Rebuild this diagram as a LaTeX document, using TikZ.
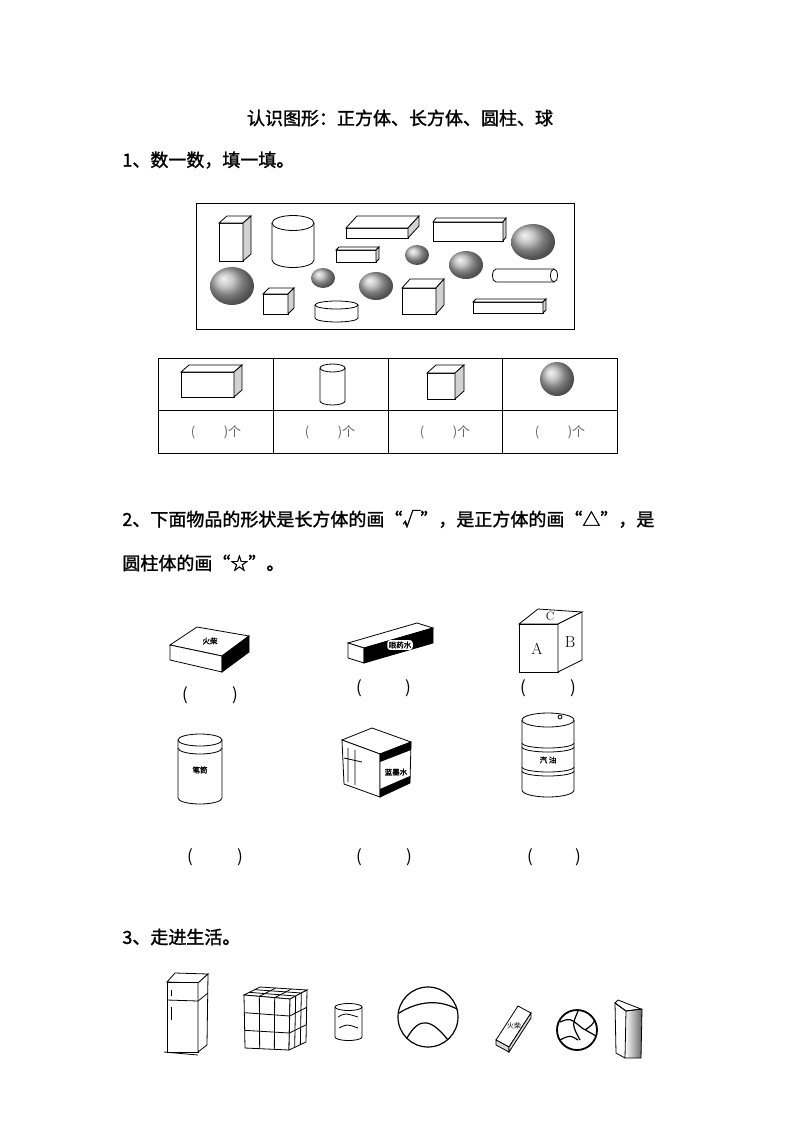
\documentclass[tikz,border=0pt]{standalone}
\usetikzlibrary{calc}
\usepackage{fontspec}
\newfontfamily\cjk{Noto Sans CJK SC}
\newfontfamily\cjkb{Noto Sans CJK SC}[FakeBold=1.5]
\newcommand\cub[6]{%
 \draw[fill=white] (#1,#2) rectangle ++(#3,#4);
 \draw[fill=white] (#1,#2) -- ++(#5,-#6) -- ++(#3,0) -- ++(-#5,#6) -- cycle;
 \draw[fill=gray!35] (#1+#3,#2) -- ++(#5,-#6) -- ++(0,#4) -- ++(-#5,#6) -- cycle;}
\newcommand\cyl[5]{% cx top rx ry h
 \draw[fill=white] (#1-#3,#2) -- ++(0,#5) arc(180:0:#3 and #4) -- (#1+#3,#2);
 \draw (#1,#2) ellipse (#3 and #4);}
\newcommand\sph[4]{\shade[ball color=gray!60] (#1,#2) ellipse (#3 and #4);}
\begin{document}
\begin{tikzpicture}[x=1pt,y=-1pt,line width=0.8pt,
 txt/.style={font=\cjkb\fontsize{18}{20}\selectfont,anchor=west,inner sep=0},
 cnt/.style={font=\cjk\fontsize{13}{14}\selectfont,text=gray!80!black},
 par/.style={font=\cjk\fontsize{17}{18}\selectfont},
 lab/.style={font=\cjkb\fontsize{7.5}{8}\selectfont,inner sep=0.5pt}]
\useasboundingbox (0,0) rectangle (800,1132);
\fill[white] (0,0) rectangle (800,1132);
\node[font=\cjkb\fontsize{18}{20}\selectfont] (title) at (400,118) {认识图形：正方体、长方体、圆柱、球};
\node[txt] (q1) at (122,160) {1、数一数，填一填。};
% box of shapes
\draw (196,203) rectangle (574,329);
\cub{219}{223}{24}{38}{8}{7}
\cyl{293}{223}{21}{7.5}{37}
\cub{346}{228}{62}{10}{11}{12}
\cub{433}{222}{70}{19}{3}{4}
\sph{533}{242}{22}{18}
\cub{336}{250}{40}{12}{3}{3}
\sph{417}{255}{12}{10}
\sph{466}{265}{17}{14}
\draw[fill=white] (554,269) -- (496,269) arc(-90:-270:3.5 and 6.5) -- (554,282);
\draw[fill=white] (554,275.5) ellipse (3.5 and 6.5);
\sph{232}{286}{22}{19}
\sph{323}{278}{12}{10}
\sph{376}{286}{17}{14}
\cub{263}{294}{25}{20}{6}{6}
\cyl{336.5}{305}{21.5}{4}{13}
\cub{402}{288}{34}{26}{8}{9}
\cub{473}{302}{70}{11}{3}{3}
% table
\draw[line width=0.6pt] (158,358) rectangle (617,453);
\draw[line width=0.6pt] (158,410) -- (617,410);
\foreach \x in {273,388,502} \draw[line width=0.6pt] (\x,358) -- (\x,453);
\cub{181}{372}{53}{25}{8}{7}
\cyl{332.5}{368}{12.5}{4}{33}
\cub{427}{373}{28}{26}{9}{8}
\sph{557}{379}{17}{17}
\foreach \x/\n in {216/c1,330/c2,445/c3,560/c4} \node[cnt] (\n) at (\x,432) {(\hspace{2.2em})个};
% question 2
\node[txt] (q2a) at (122,519) {2、下面物品的形状是长方体的画“√”，是正方体的画“△”，是};
\node[txt] (q2b) at (122,563) {圆柱体的画“☆”。};
% matchbox
\draw[fill=white] (170,645) -- (197,627) -- (249,636) -- (222,656) -- cycle;
\draw[fill=white] (170,645) -- (222,656) -- (222,672) -- (170,660) -- cycle;
\draw[fill=black] (222,656) -- (249,636) -- (249,652) -- (222,672) -- cycle;
\node[lab] (mlab) at (210,641) {火柴};
% eye drops
\draw[fill=white] (348,643) -- (417,623) -- (433,628) -- (364,648) -- cycle;
\draw[fill=white] (348,643) -- (364,648) -- (364,663) -- (348,658) -- cycle;
\draw[fill=black] (364,648) -- (433,628) -- (433,643) -- (364,663) -- cycle;
\node[lab,fill=white,rounded corners=3pt,inner sep=1.5pt] (elab) at (400,645) {眼药水};
% ABC cube
\draw[fill=white] (519,624) -- (538,609) -- (582,612) -- (558,624) -- cycle;
\draw[fill=white] (519,624) rectangle (558,672);
\draw[fill=white] (558,624) -- (582,612) -- (582,660) -- (558,672) -- cycle;
\node[font=\fontsize{16}{16}\selectfont] (la) at (537,649) {A};
\node[font=\fontsize{16}{16}\selectfont] (lb) at (570,642) {B};
\node[font=\fontsize{12}{12}\selectfont] (lc) at (550,616) {C};
\foreach \a/\b/\y/\n in {185/235/695/p1,359/408/688/p2,523/573/688/p3,190/240/857/p4,359/409/857/p5,530/578/857/p6}{
 \node[par] (\n l) at (\a,\y) {(}; \node[par] (\n r) at (\b,\y) {)};}
% pen holder
\cyl{200}{740}{22}{6}{58}
\draw (178,748) arc(180:0:22 and 6);
\node[lab] (plab) at (200,770) {笔筒};
% ink box
\draw[fill=white] (342,740) -- (372,728) -- (411,742) -- (380,754) -- cycle;
\draw[fill=white] (342,740) -- (380,754) -- (380,797) -- (344,784) -- cycle;
\draw (348,748) -- (348,782) (355,750) -- (355,785) (344,758) -- (362,762);
\draw[fill=white] (380,754) -- (411,742) -- (410,783) -- (380,797) -- cycle;
\fill (380,754) -- (411,742) -- (411,750) -- (380,762) -- cycle;
\fill (380,789) -- (410,776) -- (410,783) -- (380,797) -- cycle;
\node[lab] (ilab) at (396,772) {蓝墨水};
% oil drum
\cyl{548}{720}{26}{7}{70}
\draw (522,743) arc(180:0:26 and 5) (522,747) arc(180:0:26 and 5);
\draw (522,767) arc(180:0:26 and 5) (522,771) arc(180:0:26 and 5);
\draw (560,717) circle (2);
\node[lab] (olab) at (548,760) {汽\ 油};
% question 3
\node[txt] (q3) at (122,937) {3、走进生活。};
% fridge
\draw[fill=white] (167,982) -- (175,973) -- (208,974) -- (198,983) -- cycle;
\draw[fill=white] (167,982) rectangle (198,1052);
\draw[fill=white] (198,983) -- (208,974) -- (207,1045) -- (198,1052) -- cycle;
\draw (167,1000) -- (198,1001) -- (208,993);
\draw (171,990) -- (171,996) (171,1007) -- (171,1020);
\draw (164,1052) -- (198,1055);
% rubik cube
\draw[fill=white] (244,995) -- (260,987) -- (307,990) -- (290,999) -- cycle;
\draw[fill=white] (244,995) -- (290,999) -- (289,1050) -- (245,1048) -- cycle;
\draw[fill=white] (290,999) -- (307,990) -- (306,1042) -- (289,1050) -- cycle;
\foreach \t in {1,2} {
 \draw ($(244,995)!\t/3!(245,1048)$) -- ($(290,999)!\t/3!(289,1050)$) -- ($(307,990)!\t/3!(306,1042)$);
 \draw ($(244,995)!\t/3!(290,999)$) -- ($(245,1048)!\t/3!(289,1050)$);
 \draw ($(244,995)!\t/3!(290,999)$) -- ($(260,987)!\t/3!(307,990)$);
 \draw ($(290,999)!\t/3!(307,990)$) -- ($(289,1050)!\t/3!(306,1042)$);
 \draw ($(244,995)!\t/3!(260,987)$) -- ($(290,999)!\t/3!(307,990)$);}
% can
\cyl{348.5}{1007}{13.5}{3.5}{30}
\draw (338,1017) .. controls (345,1013) .. (358,1017) (339,1028) .. controls (347,1024) .. (358,1028);
% ball
\draw[line width=1.2pt] (428,1017) circle (30);
\draw[line width=1.2pt] (399,1013) .. controls (420,1000) and (440,1000) .. (457,1009);
\draw[line width=1.2pt] (407,1038) .. controls (420,1015) and (432,1020) .. (448,1040);
% small matchbox
\draw[fill=white] (496,1040) -- (518,1006) -- (531,1013) -- (509,1047) -- cycle;
\draw[fill=gray!30] (496,1040) -- (509,1047) -- (509,1052) -- (496,1045) -- cycle;
\draw[fill=gray!30] (509,1047) -- (531,1013) -- (531,1018) -- (509,1052) -- cycle;
\node[font=\cjk\fontsize{7}{8}\selectfont,inner sep=0] (slab) at (514,1026) {火柴};
% volleyball
\draw[line width=1.8pt] (577,1030) circle (20);
\draw[line width=1.2pt] (560,1022) .. controls (570,1018) .. (582,1028) (578,1011) .. controls (572,1025) .. (580,1040) (585,1030) .. controls (592,1025) .. (595,1020) (560,1040) .. controls (570,1035) .. (578,1040) (582,1028) -- (596,1036);
% eraser block
\shade[left color=white,right color=gray!80!black] (626,1011) -- (642,1009) -- (641,1058) -- (625,1058) -- cycle;
\draw (615,1003) -- (618,1000) -- (641,1009) -- (626,1011) -- cycle;
\draw (615,1003) -- (626,1011) -- (625,1058) -- (616,1053) -- cycle;
\draw (626,1011) -- (642,1009) -- (641,1058) -- (625,1058);
\end{tikzpicture}
\end{document}
